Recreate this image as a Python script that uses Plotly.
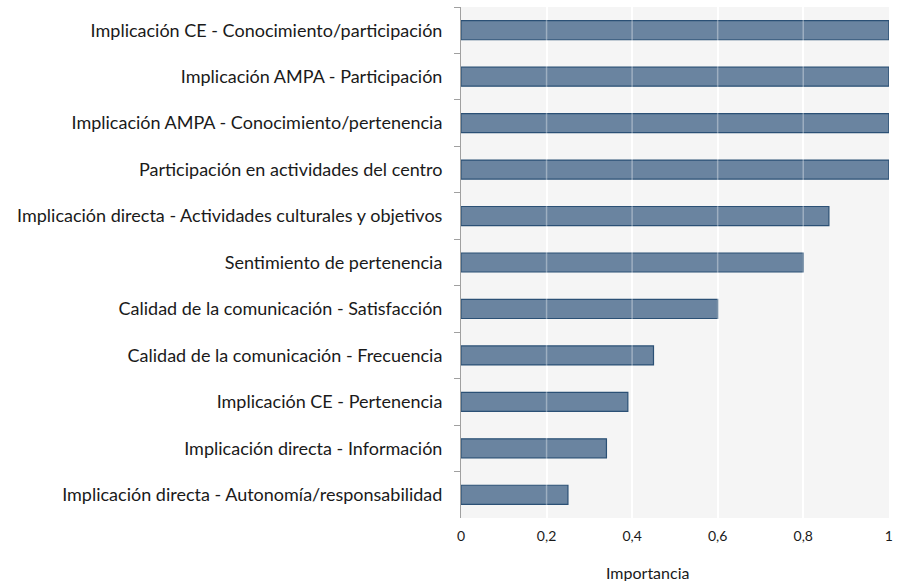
import plotly.graph_objects as go

categories = [
    "Implicación CE - Conocimiento/participación",
    "Implicación AMPA - Participación",
    "Implicación AMPA - Conocimiento/pertenencia",
    "Participación en actividades del centro",
    "Implicación directa - Actividades culturales y objetivos",
    "Sentimiento de pertenencia",
    "Calidad de la comunicación - Satisfacción",
    "Calidad de la comunicación - Frecuencia",
    "Implicación CE - Pertenencia",
    "Implicación directa - Información",
    "Implicación directa - Autonomía/responsabilidad",
]
importance = [1.0, 1.0, 1.0, 1.0, 0.86, 0.80, 0.60, 0.45, 0.39, 0.34, 0.25]
x_ticks = [0, 0.2, 0.4, 0.6, 0.8, 1]
x_tick_labels = ["0", "0,2", "0,4", "0,6", "0,8", "1"]
x_title = "Importancia"

fig = go.Figure(go.Bar(
    y=categories, x=importance, orientation="h",
    width=0.41,
    marker=dict(color="#6a84a0", line=dict(color="#2b5075", width=1.2)),
))

# faint gridlines drawn over the bars
for t in x_ticks[1:-1]:
    fig.add_shape(type="line", xref="x", yref="paper", x0=t, x1=t, y0=0, y1=1,
                  line=dict(color="rgba(255,255,255,0.35)", width=1.5), layer="above")

fig.add_annotation(text=x_title, xref="paper", yref="paper", x=0.435, y=0,
                   yshift=-54, xanchor="center", yanchor="middle", showarrow=False,
                   font=dict(size=16, color="#1a1a1a"))

fig.update_layout(
    width=897, height=581,
    margin=dict(l=461, r=8, t=7, b=63),
    paper_bgcolor="white", plot_bgcolor="#f5f5f5",
    font=dict(family="Lato, Open Sans, sans-serif", color="#1a1a1a"),
    showlegend=False,
    bargap=0.6,
)
fig.update_xaxes(
    range=[0, 1.0005], tickvals=x_ticks, ticktext=x_tick_labels,
    showgrid=True, gridcolor="white", gridwidth=1.5,
    zeroline=False, showline=False, ticks="", automargin=False,
    tickfont=dict(size=14), ticklabelstandoff=8,
)
fig.update_yaxes(
    autorange="reversed", tickson="boundaries", ticks="outside", ticklen=6,
    tickcolor="#a0a0a0", showline=True, linecolor="#a0a0a0", linewidth=1,
    showgrid=False, tickfont=dict(size=18), ticklabelstandoff=14, automargin=False,
)
fig.write_html(
    "out.html",
    config={"displayModeBar": False},
    post_script="document.body.style.margin='0';document.body.style.overflow='hidden';",
)
